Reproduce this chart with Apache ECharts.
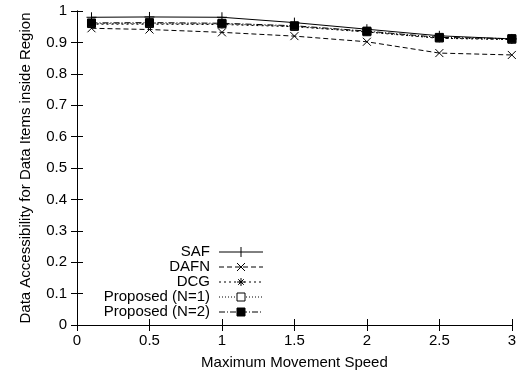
<!DOCTYPE html>
<html><head><meta charset="utf-8">
<script src="https://cdn.jsdelivr.net/npm/echarts@6/dist/echarts.min.js"></script>
<style>html,body{margin:0;padding:0;background:#fff}#c{width:519px;height:375px}</style>
</head><body><div id="c"></div>
<script>
const speeds = [0.1, 0.5, 1, 1.5, 2, 2.5, 3];
const saf      = [0.980, 0.981, 0.980, 0.963, 0.942, 0.921, 0.911];
const dafn     = [0.945, 0.941, 0.932, 0.920, 0.902, 0.866, 0.860];
const dcg      = [0.958, 0.958, 0.957, 0.950, 0.933, 0.913, 0.909];
const propN1   = [0.960, 0.960, 0.959, 0.951, 0.934, 0.914, 0.910];
const propN2   = [0.962, 0.963, 0.961, 0.953, 0.936, 0.916, 0.912];
const seriesNames = ['SAF', 'DAFN', 'DCG', 'Proposed (N=1)', 'Proposed (N=2)'];
const xTitle = 'Maximum Movement Speed';
const yTitle = 'Data Accessibility for Data Items inside Region';

const FONT = '"Liberation Sans", Arial, Helvetica, sans-serif';
const PLUS = 'path://M0,5L10,5M5,0L5,10';
const CROSS = 'path://M0,0L10,10M0,10L10,0';
const STAR = 'path://M0,5L10,5M5,0L5,10M1.5,1.5L8.5,8.5M1.5,8.5L8.5,1.5';

const styles = [
  {symbol: PLUS, size: 10, dash: 'solid', fill: 'none', stroke: 1},
  {symbol: CROSS, size: 8, dash: [5, 3], fill: 'none', stroke: 1},
  {symbol: STAR, size: 8, dash: [2, 3], fill: 'none', stroke: 1},
  {symbol: 'rect', size: 8, dash: [1, 2], fill: '#fff', stroke: 1},
  {symbol: 'rect', size: 8, dash: [6, 2, 1, 2], fill: '#000', stroke: 1}
];
const dataSets = [saf, dafn, dcg, propN1, propN2];

const series = dataSets.map((vals, i) => ({
  name: seriesNames[i],
  type: 'line',
  data: speeds.map((x, j) => [x, vals[j]]),
  symbol: styles[i].symbol,
  symbolSize: styles[i].size,
  showAllSymbol: true,
  lineStyle: {color: '#000', width: 1, type: styles[i].dash},
  itemStyle: {color: styles[i].fill, borderColor: '#000', borderWidth: styles[i].stroke},
  emphasis: {disabled: true},
  animation: false,
  z: 2 + i
}));

// legend drawn as graphic
const legendGraphics = [];
const legTop = 252, legStep = 15, textRight = 210, lineL = 219, lineR = 263, mark = 241;
seriesNames.forEach((n, i) => {
  const y = legTop + i * legStep;
  legendGraphics.push({
    type: 'text', x: textRight, y: y,
    style: {text: n, font: '15px ' + FONT, fill: '#000', textAlign: 'right', textVerticalAlign: 'middle'}
  });
  legendGraphics.push({
    type: 'line', shape: {x1: lineL, y1: y, x2: lineR, y2: y},
    style: {stroke: '#000', lineWidth: 1, lineDash: styles[i].dash === 'solid' ? null : styles[i].dash}
  });
  const s = styles[i];
  const h = s.size / 2;
  if (i === 0) {
    legendGraphics.push({type: 'line', shape: {x1: mark, y1: y - h, x2: mark, y2: y + h}, style: {stroke: '#000', lineWidth: 1}});
  } else if (i === 1) {
    legendGraphics.push({type: 'line', shape: {x1: mark - h, y1: y - h, x2: mark + h, y2: y + h}, style: {stroke: '#000', lineWidth: 1}});
    legendGraphics.push({type: 'line', shape: {x1: mark - h, y1: y + h, x2: mark + h, y2: y - h}, style: {stroke: '#000', lineWidth: 1}});
  } else if (i === 2) {
    legendGraphics.push({type: 'line', shape: {x1: mark - h, y1: y, x2: mark + h, y2: y}, style: {stroke: '#000', lineWidth: 1}});
    legendGraphics.push({type: 'line', shape: {x1: mark, y1: y - h, x2: mark, y2: y + h}, style: {stroke: '#000', lineWidth: 1}});
    legendGraphics.push({type: 'line', shape: {x1: mark - h * 0.7, y1: y - h * 0.7, x2: mark + h * 0.7, y2: y + h * 0.7}, style: {stroke: '#000', lineWidth: 1}});
    legendGraphics.push({type: 'line', shape: {x1: mark - h * 0.7, y1: y + h * 0.7, x2: mark + h * 0.7, y2: y - h * 0.7}, style: {stroke: '#000', lineWidth: 1}});
  } else {
    legendGraphics.push({type: 'rect', shape: {x: mark - h, y: y - h, width: s.size, height: s.size}, style: {fill: s.fill, stroke: '#000', lineWidth: 1}});
  }
});

const axisCommon = {
  axisLine: {show: true, lineStyle: {color: '#000', width: 1}},
  axisTick: {show: true, inside: true, length: 6, lineStyle: {color: '#000'}},
  splitLine: {show: false}
};
const labelStyle = {color: '#000', fontFamily: FONT, fontSize: 15};
const fmt = v => String(Math.round(v * 10) / 10);

const option = {
  backgroundColor: '#fff',
  animation: false,
  grid: {left: 77, right: 5, top: 11, bottom: 49, containLabel: false},
  xAxis: [
    Object.assign({type: 'value', min: 0, max: 3, interval: 0.5, position: 'bottom',
      name: xTitle, nameLocation: 'middle', nameGap: 30,
      nameTextStyle: labelStyle,
      axisLabel: Object.assign({margin: 8, formatter: fmt}, labelStyle)}, axisCommon),
    Object.assign({type: 'value', min: 0, max: 3, interval: 0.5, position: 'top',
      axisLabel: {show: false}}, axisCommon)
  ],
  yAxis: [
    Object.assign({type: 'value', min: 0, max: 1, interval: 0.1, position: 'left',
      name: yTitle, nameLocation: 'middle', nameGap: 44,
      nameTextStyle: labelStyle,
      axisLabel: Object.assign({margin: 10, formatter: fmt}, labelStyle)}, axisCommon),
    Object.assign({type: 'value', min: 0, max: 1, interval: 0.1, position: 'right',
      axisLabel: {show: false}}, axisCommon)
  ],
  series: series,
  graphic: legendGraphics
};
echarts.init(document.getElementById('c'), null, {renderer: 'canvas'}).setOption(option);
</script></body></html>
